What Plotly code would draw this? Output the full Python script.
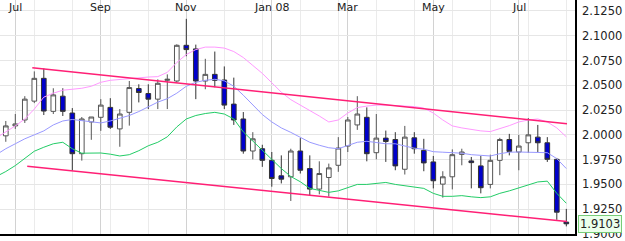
import pandas as pd
import plotly.graph_objects as go

# Weekly candles (week starting Sunday), Jun 24 2007 .. Aug 10 2008
candle_dates = pd.date_range("2007-06-24", periods=60, freq="7D")
opens = [1.999, 2.009, 2.015, 2.034, 2.057, 2.0237, 2.039, 2.022, 1.981, 2.013,
         2.0177, 2.0277, 2.006, 2.0227, 2.0467, 2.0417, 2.036, 2.055, 2.0543, 2.0903,
         2.0867, 2.0543, 2.061, 2.0553, 2.031, 2.016, 1.9837, 1.986, 1.9743, 1.9587,
         1.9577, 1.9837, 1.966, 1.9453, 1.957, 1.9693, 1.9887, 2.010, 2.0177, 1.982,
         1.9967, 1.9953, 1.9653, 1.997, 1.9843, 1.9727, 1.9503, 1.9577, 1.9803, 1.9737,
         1.9687, 1.950, 1.9743, 1.9953, 1.9827, 1.992, 1.9977, 1.992, 1.9753, 1.912]
highs = [2.014, 2.021, 2.039, 2.064, 2.067, 2.047, 2.047, 2.027, 2.018, 2.018,
         2.036, 2.037, 2.026, 2.0543, 2.051, 2.051, 2.056, 2.061, 2.0913, 2.117,
         2.091, 2.0767, 2.084, 2.069, 2.0577, 2.023, 2.0027, 1.990, 1.9827, 1.9793,
         1.986, 1.9967, 1.9793, 1.9733, 1.971, 1.9977, 2.018, 2.039, 2.0277, 2.021,
         2.0043, 2.0027, 2.009, 2.0027, 1.996, 1.9787, 1.9633, 1.9853, 1.986, 1.9777,
         1.9787, 1.980, 1.997, 2.001, 2.000, 2.017, 2.010, 1.9977, 1.9767, 1.9253]
lows = [1.993, 2.006, 2.012, 2.032, 2.020, 2.021, 2.019, 1.964, 1.974, 1.995,
        2.004, 2.006, 1.988, 2.0093, 2.0327, 2.026, 2.026, 2.026, 2.0527, 2.0793,
        2.036, 2.046, 2.048, 2.026, 2.010, 1.981, 1.9753, 1.9677, 1.9477, 1.951,
        1.9333, 1.961, 1.9387, 1.940, 1.9377, 1.9627, 1.9827, 2.005, 1.9733, 1.9753,
        1.9727, 1.9643, 1.960, 1.981, 1.9633, 1.946, 1.9367, 1.945, 1.9693, 1.946,
        1.941, 1.946, 1.9593, 1.9793, 1.9643, 1.9817, 1.9827, 1.9727, 1.9143, 1.9077]
closes = [2.009, 2.011, 2.036, 2.057, 2.024, 2.0403, 2.0237, 1.981, 2.016, 2.018,
          2.030, 2.0077, 2.021, 2.0477, 2.0427, 2.036, 2.052, 2.056, 2.0903, 2.086,
          2.0543, 2.061, 2.055, 2.030, 2.015, 1.9837, 1.996, 1.9743, 1.956, 1.9553,
          1.9837, 1.9643, 1.9453, 1.961, 1.9667, 1.9867, 2.015, 2.021, 1.981, 1.9967,
          1.9933, 1.9687, 1.9977, 1.986, 1.9717, 1.9537, 1.9577, 1.980, 1.9827, 1.972,
          1.9467, 1.9743, 1.9953, 1.9833, 1.9887, 2.000, 1.992, 1.9753, 1.922, 1.9103]

# Band lines (upper / middle / lower), weekly from Jun 17 2007
band_dates = pd.date_range("2007-06-17", periods=61, freq="7D")
upper = [1.997, 2.003, 2.009, 2.016, 2.026, 2.038, 2.042, 2.045, 2.046, 2.047,
         2.049, 2.053, 2.055, 2.056, 2.057, 2.0577, 2.0583, 2.0587, 2.063, 2.073,
         2.081, 2.086, 2.0885, 2.0885, 2.0875, 2.084, 2.078, 2.070, 2.062, 2.0525,
         2.043, 2.0355, 2.030, 2.025, 2.019, 2.013, 2.015, 2.022, 2.0275, 2.029,
         2.030, 2.030, 2.0295, 2.029, 2.0285, 2.027, 2.022, 2.015, 2.009, 2.007,
         2.0055, 2.004, 2.0033, 2.006, 2.0093, 2.013, 2.015, 2.016, 2.013, 2.007, 1.998]
middle = [1.980, 1.986, 1.991, 1.996, 2.000, 2.004, 2.010, 2.014, 2.0155, 2.0145,
          2.013, 2.012, 2.014, 2.0165, 2.0195, 2.0235, 2.0285, 2.033, 2.0365, 2.042,
          2.049, 2.053, 2.055, 2.056, 2.0545, 2.049, 2.040, 2.030, 2.0205, 2.013,
          2.007, 2.0025, 1.9975, 1.9925, 1.9895, 1.987, 1.986, 1.989, 1.9925, 1.9935,
          1.9925, 1.991, 1.991, 1.989, 1.9865, 1.9855, 1.983, 1.9825, 1.982, 1.9815,
          1.980, 1.979, 1.9787, 1.981, 1.9825, 1.9827, 1.9827, 1.9827, 1.982, 1.976, 1.966]
lower = [1.958, 1.963, 1.969, 1.976, 1.9835, 1.9875, 1.991, 1.9925, 1.986, 1.9815,
         1.9815, 1.9817, 1.9805, 1.9787, 1.980, 1.984, 1.989, 1.9925, 1.998, 2.008,
         2.016, 2.0195, 2.0215, 2.0227, 2.021, 2.016, 2.003, 1.9935, 1.984, 1.975,
         1.966, 1.958, 1.9527, 1.946, 1.9443, 1.942, 1.9435, 1.9465, 1.950, 1.950,
         1.951, 1.952, 1.950, 1.9487, 1.948, 1.946, 1.941, 1.938, 1.938, 1.9387,
         1.9375, 1.9367, 1.9375, 1.941, 1.9435, 1.9465, 1.950, 1.9525, 1.9533, 1.941, 1.931]

# Trend channel
chan_top_dates = ["2007-07-13 12:00", "2008-08-10 12:00"]
chan_top_vals = [2.0677, 2.0113]
chan_bot_dates = ["2007-07-09 19:00", "2008-08-10 12:00"]
chan_bot_vals = [1.9683, 1.9125]

month_ticks = ["2007-07-01", "2007-09-02", "2007-11-04", "2008-01-06",
               "2008-03-02", "2008-05-04", "2008-07-06"]
month_labels = ["Jul", "Sep", "Nov", "Jan 08", "Mar", "May", "Jul"]
y_ticks = [1.9, 1.925, 1.95, 1.975, 2.0, 2.025, 2.05, 2.075, 2.1, 2.125]
last_value = 1.9103

FONT = "DejaVu Sans"

fig = go.Figure()
fig.add_trace(go.Scatter(x=band_dates, y=upper, mode="lines",
                         line=dict(color="#ff99ff", width=1), hoverinfo="skip"))
fig.add_trace(go.Scatter(x=band_dates, y=middle, mode="lines",
                         line=dict(color="#9999ff", width=1), hoverinfo="skip"))
fig.add_trace(go.Scatter(x=band_dates, y=lower, mode="lines",
                         line=dict(color="#22cc66", width=1), hoverinfo="skip"))
fig.add_trace(go.Scatter(x=chan_top_dates, y=chan_top_vals, mode="lines",
                         line=dict(color="#ff1f75", width=1.5), hoverinfo="skip"))
fig.add_trace(go.Scatter(x=chan_bot_dates, y=chan_bot_vals, mode="lines",
                         line=dict(color="#ff1f75", width=1.5), hoverinfo="skip"))
fig.add_trace(go.Candlestick(
    x=candle_dates, open=opens, high=highs, low=lows, close=closes,
    increasing=dict(fillcolor="#ffffff", line=dict(color="#555555", width=1)),
    decreasing=dict(fillcolor="#0000cc", line=dict(color="#333333", width=1)),
    whiskerwidth=0,
))

# Month labels drawn inside the top of the plot
month_annotations = [
    dict(xref="x", yref="paper", x=d, y=1, xanchor="center", yanchor="top",
         text=t, showarrow=False, borderpad=0,
         font=dict(family=FONT, size=11, color="#222222"))
    for d, t in zip(month_ticks, month_labels)
]

fig.update_layout(
    width=625, height=241,
    margin=dict(l=0, r=50, t=0, b=4),
    paper_bgcolor="white", plot_bgcolor="white",
    showlegend=False,
    font=dict(family=FONT, size=11, color="#222222"),
    xaxis=dict(
        type="date",
        range=["2007-06-19 17:25", "2008-08-16 09:50"],
        tickmode="array", tickvals=month_ticks,
        showticklabels=False,
        ticks="",
        showgrid=True, gridcolor="#d2d2d2", gridwidth=1,
        minor=dict(showgrid=True, gridcolor="#ebebeb", gridwidth=1,
                   tick0="2007-07-15", dtick=4 * 7 * 86400000),
        rangeslider=dict(visible=False),
        showline=True, linecolor="#000000", linewidth=1.5,
        zeroline=False,
    ),
    yaxis=dict(
        side="right",
        range=[1.9, 2.136],
        tickmode="array", tickvals=y_ticks,
        tickformat=".4f",
        ticklabeloverflow="allow",
        showgrid=True, gridcolor="#e6e6e6", gridwidth=1,
        showline=True, linecolor="#000000", linewidth=1.5,
        zeroline=False,
        ticks="outside", ticklen=3, tickcolor="rgba(0,0,0,0)",
        tickfont=dict(family=FONT, size=11.5, color="#222222"),
    ),
    annotations=month_annotations + [dict(
        xref="paper", yref="y", x=1.0052, y=last_value, xanchor="left", yanchor="middle",
        text=f"{last_value:.4f}", showarrow=False,
        font=dict(family=FONT, size=11.5, color="#222222"),
        bgcolor="#ecffec", bordercolor="#77cc77", borderwidth=1, borderpad=1,
    )],
)

fig.write_html("out.html")
